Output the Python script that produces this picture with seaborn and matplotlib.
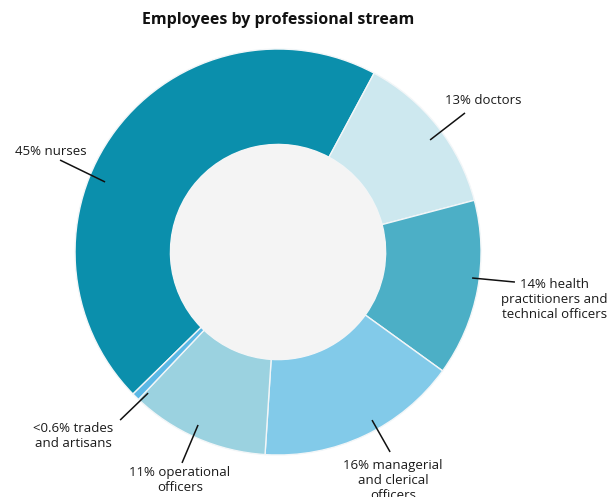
import matplotlib
matplotlib.use("Agg")
import matplotlib.pyplot as plt
import seaborn as sns
from matplotlib.patches import Circle

categories = ["nurses", "doctors", "health practitioners and technical officers",
              "managerial and clerical officers", "operational officers", "trades and artisans"]
shares = [45, 13, 14, 16, 11, 0.6]
labels = ["45% nurses", "13% doctors", "14% health\npractitioners and\ntechnical officers",
          "16% managerial\nand clerical\nofficers", "11% operational\nofficers",
          "<0.6% trades\nand artisans"]
colors = ["#0b8fac", "#cde8ef", "#4cafc6", "#82cae9", "#9bd2e0", "#5bb8e6"]

sns.set_theme(style="white")
plt.rcParams['font.family'] = ['Open Sans', 'DejaVu Sans']

fig = plt.figure(figsize=(6.08, 4.97), dpi=100)
ax = fig.add_axes([0.1234, 0.0845, 0.6678, 0.8169])

wedges, _ = ax.pie(shares, colors=colors, startangle=224.4, counterclock=False,
                   radius=1.0,
                   wedgeprops=dict(width=0.47, edgecolor="#f2f6f8", linewidth=1.0))
ax.add_patch(Circle((0, 0), 0.53, facecolor="#f4f4f4", edgecolor="none", zorder=5))
ax.set_xlim(-1, 1)
ax.set_ylim(-1, 1)
ax.set_aspect("equal")
ax.axis("off")

# (line start in slice, line end near text, text position, ha)
ann = [
    ((-0.852, 0.345), (-1.074, 0.453), (-1.296, 0.493), "left"),
    ((0.749, 0.552), (0.921, 0.685), (1.010, 0.744), "center"),
    ((0.956, -0.128), (1.167, -0.148), (1.360, -0.236), "center"),
    ((0.463, -0.828), (0.552, -0.985), (0.567, -1.128), "center"),
    ((-0.394, -0.852), (-0.473, -1.039), (-0.483, -1.123), "center"),
    ((-0.640, -0.695), (-0.778, -0.828), (-1.010, -0.906), "center"),
]
for lab, (p0, p1, pt, ha) in zip(labels, ann):
    ax.plot([p0[0], p1[0]], [p0[1], p1[1]], color="#111111", lw=1.1,
            zorder=6, clip_on=False, solid_capstyle="butt")
    ax.text(pt[0], pt[1], lab, ha=ha, va="center", fontsize=9.5, color="#1a1a1a",
            linespacing=1.2, multialignment="center", clip_on=False, zorder=7)

fig.text(0.457, 0.96, "Employees by professional stream", ha="center", va="center",
         fontsize=11.5, fontweight="bold", color="#111111")

fig.savefig("out.png", dpi=100, facecolor="white")
